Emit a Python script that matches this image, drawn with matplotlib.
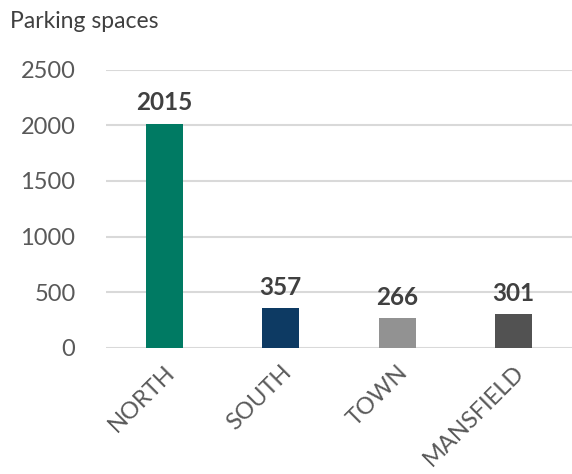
import matplotlib
matplotlib.use("Agg")
from matplotlib import pyplot as plt

plt.rcParams['font.family'] = ['Lato', 'DejaVu Sans']

# data
sites = ['NORTH', 'SOUTH', 'TOWN', 'MANSFIELD']
spaces = [2015, 357, 266, 301]
colours = ['#007A63', '#0D3A63', '#929292', '#525252']
yticks = [0, 500, 1000, 1500, 2000, 2500]

fig = plt.figure(figsize=(5.72, 4.74), dpi=100)
ax = fig.add_axes([106/572, 126/474, 1 - 106/572, (348 - 69.5)/474])

x = range(len(sites))
bars = ax.bar(x, spaces, width=0.32, color=colours, zorder=3)
for b, v in zip(bars, spaces):
    ax.text(b.get_x() + b.get_width()/2, v + 85, str(v), ha='center', va='bottom',
            fontsize=17.5, fontweight='bold', color='#404040')

ax.set_xlim(-0.5, 3.5)
ax.set_ylim(0, 2500)
ax.set_yticks(yticks)
ax.yaxis.grid(True, color='#d9d9d9', linewidth=1.5, zorder=0)
ax.set_xticks(list(x))
ax.set_xticklabels(sites, rotation=45, ha='right', rotation_mode='anchor',
                   fontsize=17, color='#595959')
ax.tick_params(axis='y', labelsize=17, labelcolor='#595959', length=0, pad=22)
ax.tick_params(axis='x', length=0, pad=10)
for s in ax.spines.values():
    s.set_visible(False)

fig.text(10/572, 1 - 22/474, 'Parking spaces', fontsize=16.5, color='#404040',
         ha='left', va='center')

fig.savefig('out.png', dpi=100)
